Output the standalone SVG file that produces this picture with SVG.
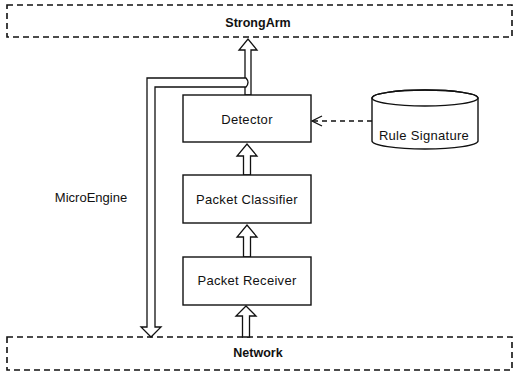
<svg xmlns="http://www.w3.org/2000/svg" width="515" height="374" viewBox="0 0 515 374">
<style>
.dash{fill:none;stroke:#111;stroke-width:1.6;stroke-dasharray:6 4}
.box{fill:#fff;stroke:#111;stroke-width:1.4}
.hollow{fill:#fff;stroke:#111;stroke-width:1.3;stroke-linejoin:miter}
.t{font-family:"Liberation Sans",Arial,sans-serif;font-size:13px;fill:#111;text-anchor:middle;letter-spacing:0.3px}
.b{font-weight:bold;font-size:12.5px;letter-spacing:0}
</style>
<rect width="515" height="374" fill="#fff"/>
<g id="strongarm">
<rect class="dash" x="7" y="5" width="505" height="32"/>
<text class="t b" x="258" y="27">StrongArm</text>
</g>
<g id="network">
<rect class="dash" x="7" y="337" width="505" height="33"/>
<text class="t b" x="258" y="357">Network</text>
</g>
<g id="connectors">
<path class="hollow" d="M245,95 L245,50 L239,50 L248,39 L257,50 L251,50 L251,95 Z"/>
<path class="hollow" d="M147,78 L246,78 Q250,82.5 246,87 L155,87 L155,327 L161,327 L151,337 L141,327 L147,327 Z"/>
<path class="hollow" d="M243.5,175 L243.5,156 L237,156 L247,144 L257,156 L250.5,156 L250.5,175 Z"/>
<path class="hollow" d="M243.5,257 L243.5,237 L237,237 L247,225 L257,237 L250.5,237 L250.5,257 Z"/>
<path class="hollow" d="M242.5,337 L242.5,316 L236,316 L246,306 L256,316 L249.5,316 L249.5,337 Z"/>
<line x1="372" y1="121" x2="313" y2="121" stroke="#111" stroke-width="1.3" stroke-dasharray="5 4"/>
<polyline points="322,116 312,121 322,126" fill="none" stroke="#111" stroke-width="1.3"/>
</g>
<g id="detector">
<rect class="box" x="183" y="95" width="128" height="47"/>
<text class="t" x="247" y="123.5">Detector</text>
</g>
<g id="classifier">
<rect class="box" x="183" y="175" width="128" height="48"/>
<text class="t" x="247" y="203.5">Packet Classifier</text>
</g>
<g id="receiver">
<rect class="box" x="183" y="257" width="128" height="48"/>
<text class="t" x="247" y="284.5">Packet Receiver</text>
</g>
<g id="rule-signature">
<path class="box" d="M372,98 L372,141 A53,8 0 0 0 478,141 L478,98 A53,8 0 0 0 372,98 Z"/>
<ellipse cx="425" cy="98" rx="53" ry="8" fill="none" stroke="#111" stroke-width="1.4"/>
<text class="t" x="424" y="139.5">Rule Signature</text>
</g>
<g id="microengine">
<text class="t" x="91" y="201.5" style="letter-spacing:0">MicroEngine</text>
</g>
</svg>
